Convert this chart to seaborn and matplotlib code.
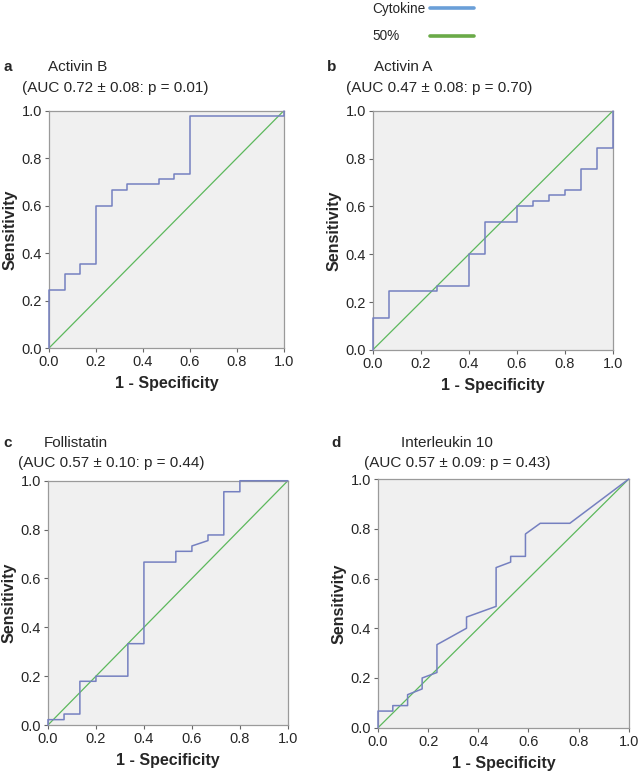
import matplotlib
matplotlib.use("Agg")
import matplotlib.pyplot as plt
import seaborn as sns
from matplotlib.lines import Line2D

# ── Data: ROC curve vertices ─────────────────────────────────────────────────
actB_fpr = [0, 0, 0.067, 0.067, 0.133, 0.133, 0.2, 0.2, 0.267, 0.267, 0.333, 0.333,
            0.467, 0.467, 0.533, 0.533, 0.6, 0.6, 1.0, 1.0]
actB_tpr = [0, 0.245, 0.245, 0.31, 0.31, 0.356, 0.356, 0.6, 0.6, 0.666, 0.666, 0.69,
            0.69, 0.711, 0.711, 0.732, 0.732, 0.978, 0.978, 1.0]

actA_fpr = [0, 0, 0.067, 0.067, 0.267, 0.267, 0.4, 0.4, 0.467, 0.467, 0.6, 0.6,
            0.667, 0.667, 0.733, 0.733, 0.8, 0.8, 0.867, 0.867, 0.933, 0.933, 1.0, 1.0]
actA_tpr = [0, 0.133, 0.133, 0.245, 0.245, 0.267, 0.267, 0.4, 0.4, 0.533, 0.533, 0.6,
            0.6, 0.624, 0.624, 0.646, 0.646, 0.668, 0.668, 0.757, 0.757, 0.845, 0.845, 1.0]

foll_fpr = [0, 0, 0.067, 0.067, 0.133, 0.133, 0.2, 0.2, 0.333, 0.333, 0.4, 0.4,
            0.533, 0.533, 0.6, 0.6, 0.667, 0.667, 0.733, 0.733, 0.8, 0.8, 1.0]
foll_tpr = [0, 0.022, 0.022, 0.045, 0.045, 0.179, 0.179, 0.2, 0.2, 0.333, 0.333, 0.667,
            0.667, 0.711, 0.711, 0.733, 0.755, 0.778, 0.778, 0.955, 0.955, 1.0, 1.0]

il10_fpr = [0, 0, 0.059, 0.059, 0.118, 0.118, 0.176, 0.176, 0.235, 0.235, 0.353, 0.353,
            0.471, 0.471, 0.529, 0.529, 0.588, 0.588, 0.647, 0.765, 1.0]
il10_tpr = [0, 0.067, 0.067, 0.089, 0.089, 0.133, 0.156, 0.2, 0.222, 0.334, 0.4, 0.445,
            0.488, 0.644, 0.666, 0.689, 0.689, 0.779, 0.822, 0.822, 1.0]

ref_line = [0, 1]

panel_letters = ["a", "b", "c", "d"]
panel_names = ["Activin B", "Activin A", "Follistatin", "Interleukin 10"]
panel_auc = ["(AUC 0.72 \u00b1 0.08: p = 0.01)", "(AUC 0.47 \u00b1 0.08: p = 0.70)",
             "(AUC 0.57 \u00b1 0.10: p = 0.44)", "(AUC 0.57 \u00b1 0.09: p = 0.43)"]
curves = [(actB_fpr, actB_tpr), (actA_fpr, actA_tpr),
          (foll_fpr, foll_tpr), (il10_fpr, il10_tpr)]
ticks = [0.0, 0.2, 0.4, 0.6, 0.8, 1.0]

# ── Style ────────────────────────────────────────────────────────────────────
sns.set_style("ticks")
plt.rcParams["font.family"] = ["Liberation Sans", "DejaVu Sans"]

CURVE = "#7580c0"
DIAG = "#5cb85c"
LEG_BLUE = "#6a9fd8"
LEG_GREEN = "#6aaa48"
SPINE = "#9a9a9a"

fig = plt.figure(figsize=(6.38, 7.76), dpi=100)

# axes rects (left, bottom, width, height) in figure fractions
rects = [
    (0.0768, 0.5515, 0.368, 0.3058),
    (0.5842, 0.5490, 0.3766, 0.3083),
    (0.0752, 0.0657, 0.3760, 0.3148),
    (0.5925, 0.0622, 0.3930, 0.3205),
]
# title positions: (letter_x, name_x, auc_x, name_y, auc_y)
title_pos = [
    (0.005, 0.075, 0.0345, 0.9137, 0.8866),
    (0.5125, 0.586, 0.542, 0.9137, 0.8866),
    (0.006, 0.069, 0.028, 0.4290, 0.4034),
    (0.519, 0.6285, 0.5705, 0.4290, 0.4034),
]

for i, rect in enumerate(rects):
    ax = fig.add_axes(rect)
    ax.set_facecolor("#f0f0f0")
    fpr, tpr = curves[i]
    sns.lineplot(x=ref_line, y=ref_line, ax=ax, color=DIAG, lw=0.9,
                 sort=False, estimator=None)
    sns.lineplot(x=fpr, y=tpr, ax=ax, color=CURVE, lw=1.1,
                 sort=False, estimator=None, zorder=3, clip_on=False)
    ax.set_xlim(0, 1)
    ax.set_ylim(0, 1)
    ax.set_xticks(ticks)
    ax.set_yticks(ticks)
    ax.set_xticklabels([f"{t:.1f}" for t in ticks])
    ax.set_yticklabels([f"{t:.1f}" for t in ticks])
    ax.tick_params(labelsize=10.5, length=3, width=0.8, color="#666666", pad=2)
    for sp in ax.spines.values():
        sp.set_color(SPINE)
        sp.set_linewidth(0.9)
    ax.set_xlabel("1 - Specificity", fontsize=11.5, fontweight="bold", labelpad=5)
    ax.set_ylabel("Sensitivity", fontsize=11.5, fontweight="bold", labelpad=3)

    lx, nx, ax_, ny, ay = title_pos[i]
    fig.text(lx, ny, panel_letters[i], fontsize=11, fontweight="bold", va="center")
    fig.text(nx, ny, panel_names[i], fontsize=11, va="center")
    fig.text(ax_, ay, panel_auc[i], fontsize=11, va="center")

# ── Legend (top right) ───────────────────────────────────────────────────────
fig.text(372 / 638, 1 - 9 / 776, "Cytokine", fontsize=9.8, va="center")
fig.text(372 / 638, 1 - 36 / 776, "50%", fontsize=9.8, va="center")
fig.add_artist(Line2D([430 / 638, 474 / 638], [1 - 8 / 776, 1 - 8 / 776],
                      color=LEG_BLUE, lw=2.6, transform=fig.transFigure))
fig.add_artist(Line2D([430 / 638, 474 / 638], [1 - 36 / 776, 1 - 36 / 776],
                      color=LEG_GREEN, lw=2.6, transform=fig.transFigure))

plt.savefig("out.png", dpi=100)
plt.close()
